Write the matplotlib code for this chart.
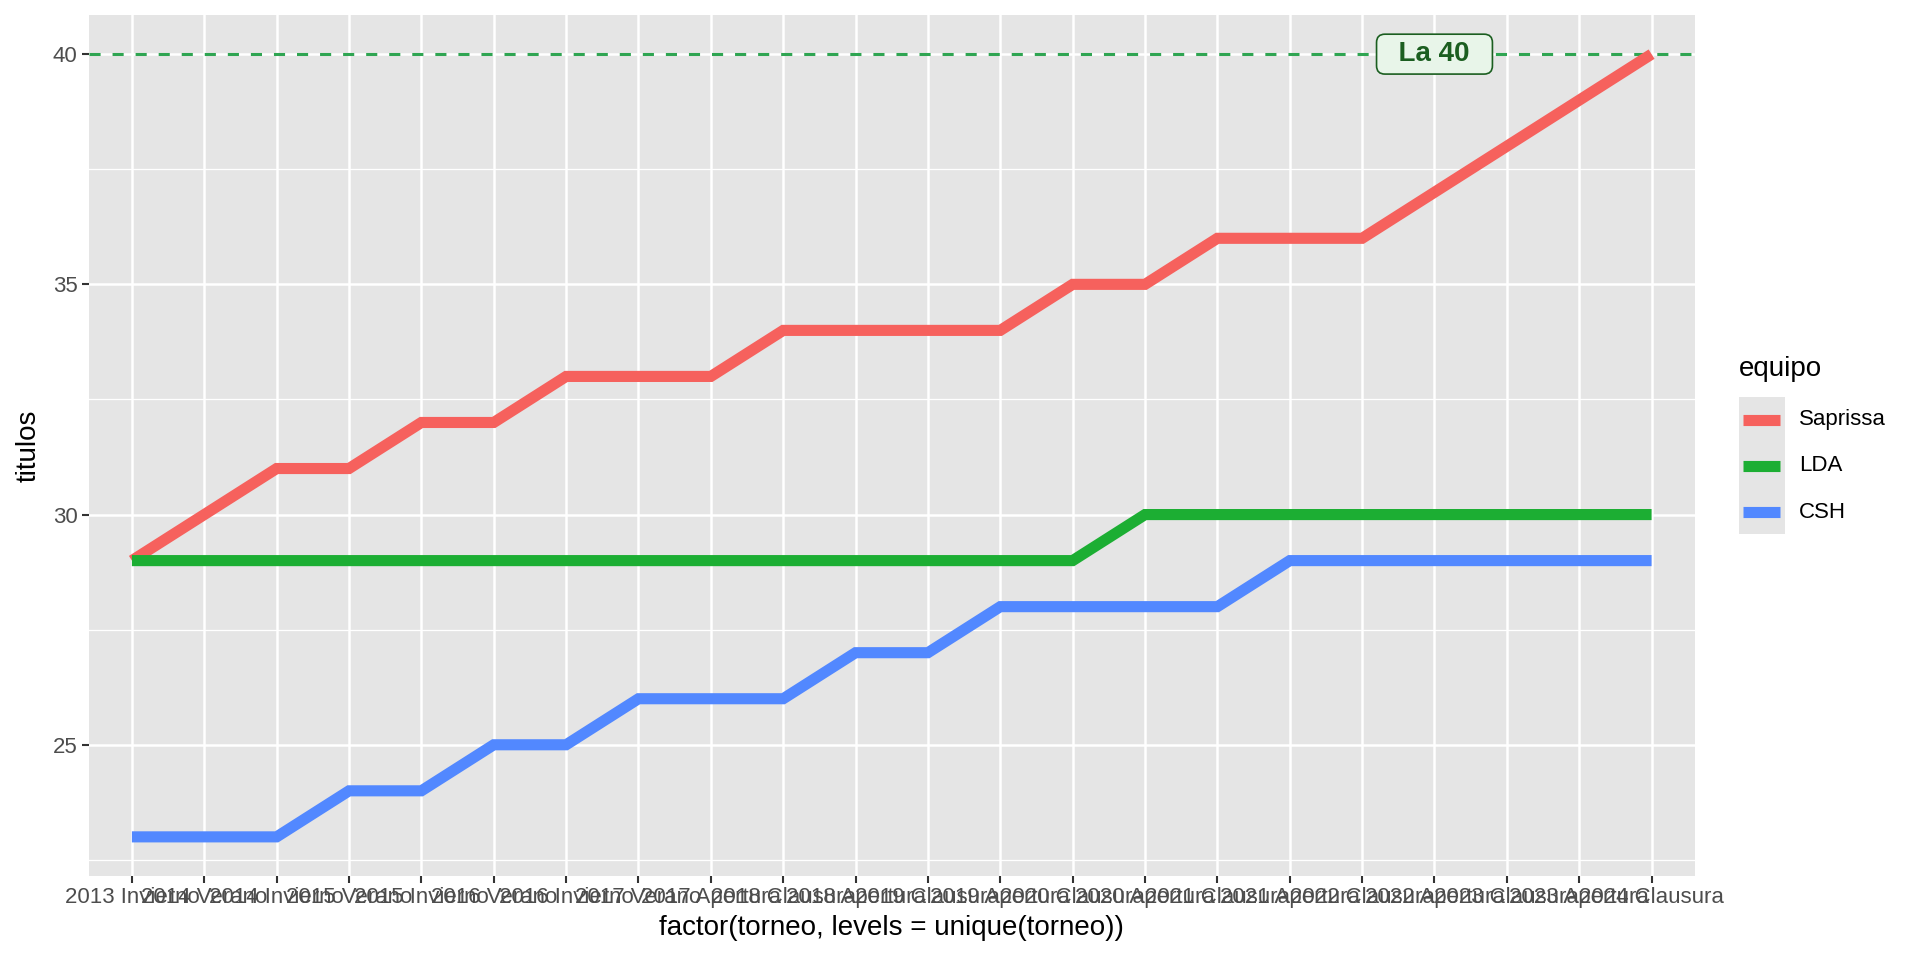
import matplotlib
matplotlib.use("Agg")
import matplotlib.pyplot as plt
from matplotlib.lines import Line2D
from matplotlib.patches import Rectangle

torneos = [
    "2013 Invierno", "2014 Verano", "2014 Invierno", "2015 Verano",
    "2015 Invierno", "2016 Verano", "2016 Invierno", "2017 Verano",
    "2017 Apertura", "2018 Clausura", "2018 Apertura", "2019 Clausura",
    "2019 Apertura", "2020 Clausura", "2020 Apertura", "2021 Clausura",
    "2021 Apertura", "2022 Clausura", "2022 Apertura", "2023 Clausura",
    "2023 Apertura", "2024 Clausura",
]
equipos = ["Saprissa", "LDA", "CSH"]
saprissa = [29, 30, 31, 31, 32, 32, 33, 33, 33, 34, 34, 34, 34, 35, 35, 36, 36, 36, 37, 38, 39, 40]
lda = [29, 29, 29, 29, 29, 29, 29, 29, 29, 29, 29, 29, 29, 29, 30, 30, 30, 30, 30, 30, 30, 30]
csh = [23, 23, 23, 24, 24, 25, 25, 26, 26, 26, 27, 27, 28, 28, 28, 28, 29, 29, 29, 29, 29, 29]
meta = 40
colores = ["#F6615D", "#1CAE33", "#5288FF"]

plt.rcParams["font.family"] = ["Liberation Sans", "DejaVu Sans"]
plt.rcParams["lines.scale_dashes"] = False

fig = plt.figure(figsize=(19.2, 9.6), dpi=100)
ax = fig.add_axes([88.5 / 1920, 1 - 876 / 960, (1695 - 88.5) / 1920, (876 - 15) / 960])
ax.set_facecolor("#E5E5E5")
for s in ax.spines.values():
    s.set_visible(False)

x = list(range(len(torneos)))
for serie, c in zip([saprissa, lda, csh], colores):
    ax.plot(x, serie, color=c, lw=8, solid_capstyle="butt", solid_joinstyle="miter", zorder=3)

ax.axhline(meta, color="#2FA552", lw=2.2, dashes=(8, 8.6), zorder=2)
ax.text(torneos.index("2022 Apertura"), meta, "  La 40  ", ha="center", va="center",
        fontsize=20, fontweight="bold", color="#1B5E20", zorder=5,
        bbox=dict(boxstyle="round,pad=0.25,rounding_size=0.3", fc="#E8F5E9", ec="#1B5E20", lw=1.2))

ax.set_xlim(-0.6, len(torneos) - 1 + 0.6)
ax.set_ylim(22.15, 40.85)
ax.set_xticks(x)
ax.set_xticklabels(torneos)
ax.set_yticks([25, 30, 35, 40])
ax.set_yticks([22.5, 27.5, 32.5, 37.5], minor=True)
ax.grid(True, which="major", color="white", lw=1.8, zorder=0)
ax.grid(True, which="minor", axis="y", color="white", lw=0.9, zorder=0)
ax.set_axisbelow(True)
ax.tick_params(which="major", length=5, width=1.5, color="#333333", labelsize=16,
               labelcolor="#4D4D4D", pad=3)
ax.tick_params(which="minor", length=0)

ax.set_xlabel("factor(torneo, levels = unique(torneo))", fontsize=20, labelpad=5)
ax.set_ylabel("titulos", fontsize=20, labelpad=8)

# leyenda
fig.text(1739 / 1920, 1 - 369 / 960, "equipo", fontsize=20, ha="left", va="center")
fig.add_artist(Rectangle((1739 / 1920, 1 - 534 / 960), 46 / 1920, 137 / 960,
                         transform=fig.transFigure, fc="#E5E5E5", ec="none"))
for i, (nom, c) in enumerate(zip(equipos, colores)):
    yk = 1 - (420 + 46 * i) / 960
    fig.add_artist(Line2D([1743 / 1920, 1780 / 1920], [yk, yk], transform=fig.transFigure,
                          color=c, lw=8, solid_capstyle="butt"))
    fig.text(1799 / 1920, yk, nom, fontsize=16, ha="left", va="center")

fig.savefig("out.png", dpi=100)
